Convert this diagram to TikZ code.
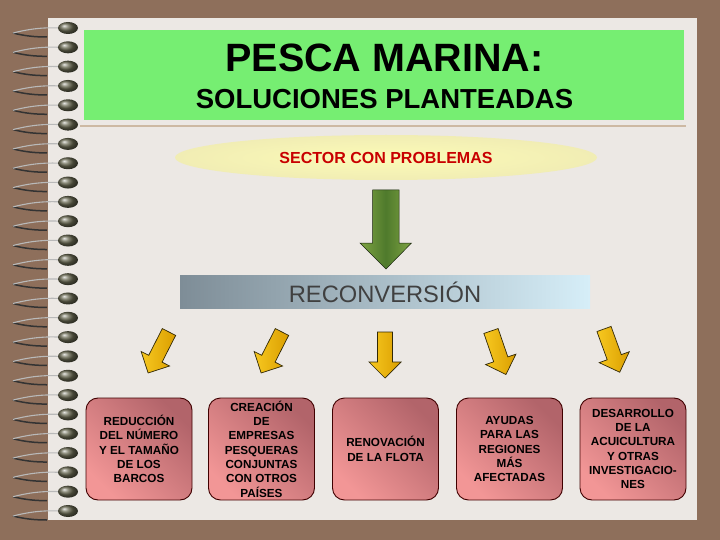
\documentclass[tikz,border=0pt]{standalone}
\usepackage{fontspec}
\setmainfont{Liberation Sans}
\usepackage{tikz}
\usetikzlibrary{shapes}
\definecolor{marron}{HTML}{8E6F5B}
\definecolor{hoja}{HTML}{ECE8E4}
\definecolor{verde}{HTML}{76EE72}
\definecolor{linea}{HTML}{CDB9A3}
\definecolor{rojo}{HTML}{C80000}
\definecolor{amarillo}{HTML}{FCFBB6}
\definecolor{amarillob}{HTML}{F1EDB4}
\definecolor{oro}{HTML}{F7C820}
\definecolor{oroosc}{HTML}{DA9E00}
\definecolor{rosa}{HTML}{F29696}
\definecolor{rosaosc}{HTML}{B2646A}
\definecolor{gris}{HTML}{7E8D97}
\definecolor{celeste}{HTML}{D6EEF8}
\definecolor{oliva}{HTML}{7FA443}
\definecolor{olivaosc}{HTML}{4F7A2C}
\definecolor{perla}{HTML}{66664F}
\newcommand{\Flecha}[3]{\draw[flecha, rotate around={#3:(#1,#2)}]
  (#1-7.5,#2) -- (#1+7.5,#2) -- (#1+7.5,#2+30) -- (#1+16,#2+30) -- (#1,#2+46)
  -- (#1-16,#2+30) -- (#1-7.5,#2+30) -- cycle;}
\newcommand{\Espiral}[1]{%
  \draw[line width=1.5pt, black!80] (13,#1+5) .. controls (25,#1+8) and (35,#1+9) .. (47,#1+9);
  \draw[line width=1.1pt, gray!55] (60,#1) .. controls (40,#1-1) and (25,#1+2) .. (13,#1+5);
  \shade[ball color=perla] (68,#1) ellipse (10pt and 6pt);}

\begin{document}
\begin{tikzpicture}[x=1pt, y=-1pt,
    caja/.style={draw=black!75!red, line width=0.9pt, rounded corners=12pt,
      minimum width=106pt, minimum height=102pt, inner sep=0pt, align=center,
      top color=rosaosc, bottom color=rosa, shading angle=-45,
      font=\fontsize{11.7}{14.3}\selectfont\bfseries},
    flecha/.style={draw=black!80!oro, line width=0.7pt, left color=oro, right color=oroosc}]

    % fondo y hoja
    \fill[marron] (0,0) rectangle (720,540);
    \fill[hoja] (48,18) rectangle (697,520);
    \foreach \i [evaluate=\i as \y using 28+19.32*\i] in {0,...,25}
      {\Espiral{\y}}

    % cabecera
    \fill[verde] (84,30) rectangle (684,120);
    \draw[linea, line width=1.2pt] (80,126) -- (686,126);
    \draw(384.5,58) node[font=\fontsize{39.5}{44}\selectfont\bfseries] (titulo) {PESCA MARINA:};
    \draw(384.5,99) node[font=\fontsize{27.5}{32}\selectfont\bfseries] (subtitulo) {SOLUCIONES PLANTEADAS};

    \draw(386,157.5) node[ellipse, minimum width=422pt, minimum height=45pt,
      inner color=amarillo, outer color=amarillob, text=rojo,
      font=\fontsize{16}{19}\selectfont\bfseries] (sector) {SECTOR CON PROBLEMAS};
    \draw[black!70!olivaosc, line width=0.5pt, left color=oliva, right color=oliva, middle color=olivaosc]
      (372.5,190) -- (399,190) -- (399,243) -- (411.5,243) -- (386,269)
      -- (360,243) -- (372.5,243) -- cycle;
    \draw(385,292) node[minimum width=410pt, minimum height=33pt, left color=gris,
      right color=celeste, text=black!75, font=\fontsize{23.7}{28}\selectfont] (reconv) {RECONVERSIÓN};

    \Flecha{169}{332}{-27}
    \Flecha{282}{332}{-27}
    \Flecha{385}{332}{0}
    \Flecha{491}{331}{19}
    \Flecha{604}{329}{20}

    \draw(139,449) node[caja] (c1) {REDUCCIÓN\\DEL NÚMERO\\Y EL TAMAÑO\\DE LOS\\BARCOS};
    \draw(261.5,449) node[caja] (c2) {CREACIÓN\\DE\\EMPRESAS\\PESQUERAS\\CONJUNTAS\\CON OTROS\\PAÍSES};
    \draw(385.5,449) node[caja] (c3) {RENOVACIÓN\\DE LA FLOTA};
    \draw(509.5,449) node[caja] (c4) {AYUDAS\\PARA LAS\\REGIONES\\MÁS\\AFECTADAS};
    \draw(633,449) node[caja] (c5) {DESARROLLO\\DE LA\\ACUICULTURA\\Y OTRAS\\INVESTIGACIO-\\NES};

\end{tikzpicture}
\end{document}
